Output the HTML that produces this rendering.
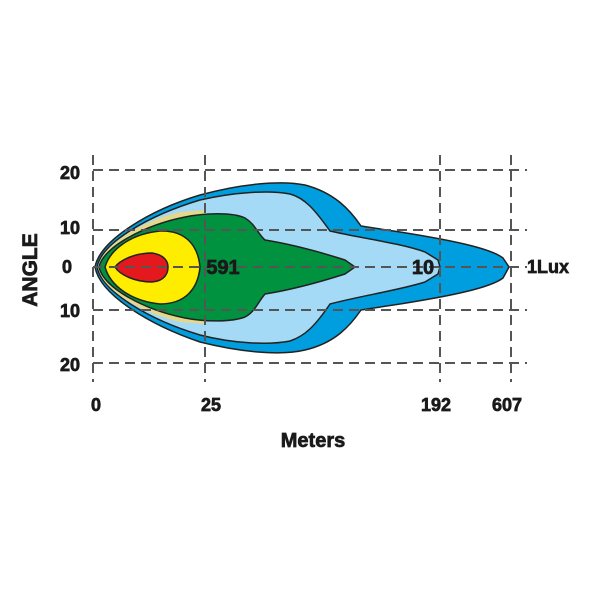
<!DOCTYPE html>
<html><head><style>body{margin:0;background:#fff}svg{display:block}text{font-family:"Liberation Sans",sans-serif;font-weight:bold;fill:#1a1a1a;stroke:#1a1a1a;stroke-width:0.7}</style></head><body>
<svg width="600" height="600" viewBox="0 0 600 600">
<g stroke="#222" stroke-width="1.5" stroke-linejoin="round">
<path d="M95,267 C100,240 150,210 200,195 C240,184 280,180 305,185 C335,193 350,210 361,226 L400,232 C450,240 490,248 503,258 L509,267 L503,278 C490,288 450,296 400,304 L361,310 C350,326 335,343 305,350 C280,356 240,352 200,342 C150,325 100,295 95,267Z" fill="#009ede"/>
<path d="M97,267 C102,242 150,215 200,200 C235,192 270,190 290,194 C305,198 315,210 330,231 C360,238 400,243 425,252 L438,260 L440,267 L438,274 L425,282 C400,290 360,296 330,304 C315,326 305,336 290,341 C270,345 235,344 200,335 C150,320 102,292 97,267Z" fill="#a4daf5"/>
<path d="M98,267 C102,245 140,222 180,212 L205,210 L205,324 L180,322 C140,312 102,290 98,267Z" fill="#e6d88a" stroke="none"/>
<path d="M99,267 C103,247 145,225 185,217 C205,213 232,212 245,218 C255,224 258,234 265,240 C290,244 320,252 345,260 L355,267 L345,274 C320,282 290,290 265,294 C258,302 255,312 245,317 C232,322 205,322 185,318 C145,310 103,288 99,267Z" fill="#00923f"/>
<path d="M105,267 C110,250 130,234 160,231 C185,230 198,245 200,267 C198,289 185,304 160,304 C130,301 110,285 105,267Z" fill="#ffed00"/>
<path d="M115,267 C120,260 135,253 152,253 C165,255 168,262 168,267 C168,273 165,281 152,282 C135,282 120,275 115,267Z" fill="#e3191e"/>
</g>
<g stroke="#555" stroke-width="2" stroke-dasharray="10,6" fill="none">
<line x1="93" y1="170" x2="527" y2="170"/>
<line x1="93" y1="230" x2="527" y2="230"/>
<line x1="93" y1="267" x2="527" y2="267"/>
<line x1="93" y1="310" x2="527" y2="310"/>
<line x1="93" y1="363" x2="527" y2="363"/>
<line x1="93" y1="155" x2="93" y2="382"/>
<line x1="205" y1="155" x2="205" y2="382"/>
<line x1="440" y1="155" x2="440" y2="382"/>
<line x1="511" y1="155" x2="511" y2="382"/>
</g>
<g font-size="18" text-anchor="end">
<text x="80" y="179">20</text><text x="80" y="234">10</text><text x="72" y="273">0</text><text x="80" y="317">10</text><text x="80" y="371">20</text>
</g>
<g font-size="18" text-anchor="middle">
<text x="96" y="411">0</text><text x="211" y="411">25</text><text x="436" y="411">192</text><text x="507" y="411">607</text>
</g>
<g font-size="20" text-anchor="middle">
<text x="223" y="274">591</text><text x="423" y="274">10</text>
</g>
<text x="527" y="273" font-size="18">1Lux</text>
<text x="313" y="447" font-size="20" text-anchor="middle">Meters</text>
<text transform="translate(37,270) rotate(-90)" font-size="21" text-anchor="middle">ANGLE</text>
</svg>
</body></html>
